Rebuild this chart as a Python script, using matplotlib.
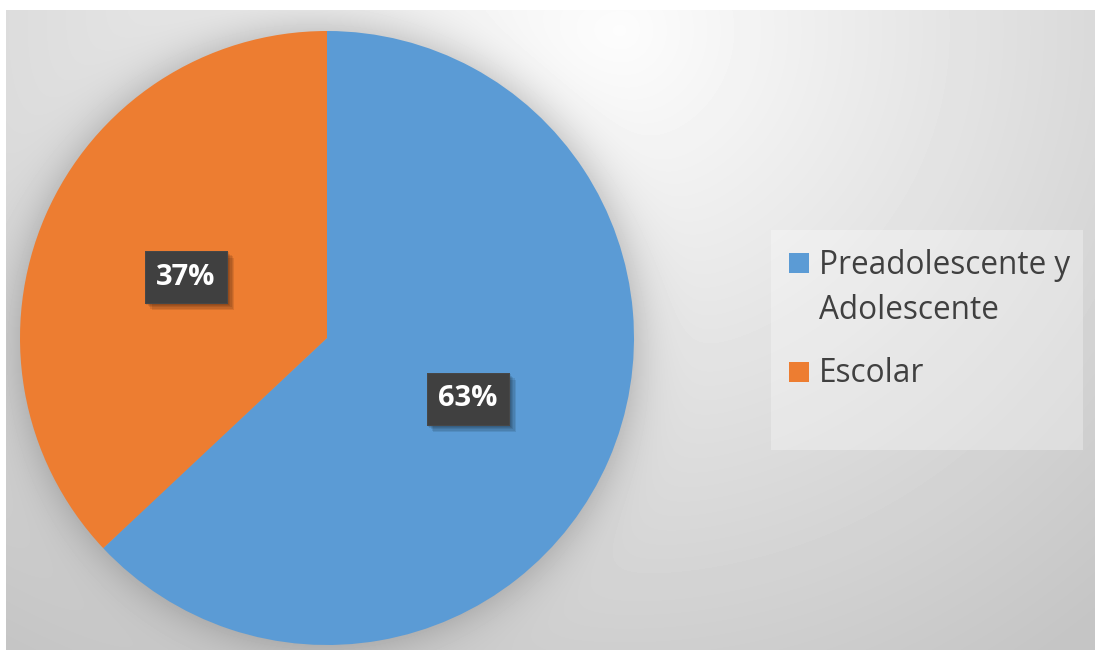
import numpy as np
import matplotlib.pyplot as plt
from matplotlib import patheffects
from matplotlib.patches import Rectangle

plt.rcParams['font.family'] = ['Open Sans', 'DejaVu Sans']

# datos
categorias = ["Preadolescente y\nAdolescente", "Escolar"]
porcentajes = [63, 37]
colores = ["#5B9BD5", "#ED7D31"]

W, H = 1095, 653
fig = plt.figure(figsize=(W / 100, H / 100), dpi=100)

# ---------------- fondo: degradado gris + sombra del pastel ----------------
yy, xx = np.mgrid[0:H, 0:W].astype(float)
sx = np.where(xx > 620, 1.0, 1.4)
d = np.hypot((xx - 620) / sx, yy - 30)
fondo = np.clip(0.99 - 0.00029 * d, 0.77, 1.0)

cx, cy, R = 327, 338, 307
r = np.hypot(xx - cx, yy - cy)
sombra = 0.28 / (1 + np.exp((r - R) / 14))
fondo = fondo * (1 - sombra)
fondo[:10, :] = 1
fondo[:, :6] = 1
fondo[650:, :] = 1

ax_bg = fig.add_axes([0, 0, 1, 1])
ax_bg.imshow(fondo, cmap='gray', vmin=0, vmax=1, extent=(0, W, H, 0), aspect='auto',
             interpolation='bilinear')
ax_bg.axis('off')

# ---------------- pastel ----------------
ax = fig.add_axes([(cx - R) / W, (H - cy - R) / H, 2 * R / W, 2 * R / H])
ax.patch.set_alpha(0)
wedges, textos, autotextos = ax.pie(porcentajes, colors=colores, startangle=90,
                                    counterclock=False, radius=1,
                                    autopct='%1.0f%%', pctdistance=0.5,
                                    wedgeprops=dict(linewidth=0))
ax.set_xlim(-1, 1)
ax.set_ylim(-1, 1)
ax.axis('off')

# sombra difusa de las etiquetas: varias copias desplazadas
sombras = [patheffects.withSimplePatchShadow(offset=(o, -o), shadow_rgbFace='black', alpha=0.09)
           for o in (1, 2, 3, 4, 5)]
for t in autotextos:
    t.set_color('white')
    t.set_fontsize(21)
    t.set_fontweight('bold')
    t.set_bbox(dict(boxstyle='square,pad=0.4', facecolor='#404040',
                    edgecolor='#4a4a4a', linewidth=0.5))
    t.get_bbox_patch().set_path_effects(sombras + [patheffects.Normal()])

# ---------------- leyenda ----------------
fig.patches.append(Rectangle((771 / W, 1 - 450 / H), 312 / W, 220 / H,
                             transform=fig.transFigure, facecolor='white',
                             alpha=0.3, edgecolor='none'))
base_y = [273, 382]
salto = 46
for nombre, color, yb in zip(categorias, colores, base_y):
    fig.patches.append(Rectangle((789 / W, 1 - yb / H), 20 / W, 20 / H,
                                 transform=fig.transFigure, facecolor=color,
                                 edgecolor='none'))
    # la alineación 'baseline' toma la última línea del texto
    y_ultima = yb + salto * nombre.count('\n')
    fig.text(819 / W, 1 - y_ultima / H, nombre, fontsize=22.7, color='#404040',
             va='baseline', ha='left', linespacing=1.46)

plt.savefig('out.png', dpi=100)
